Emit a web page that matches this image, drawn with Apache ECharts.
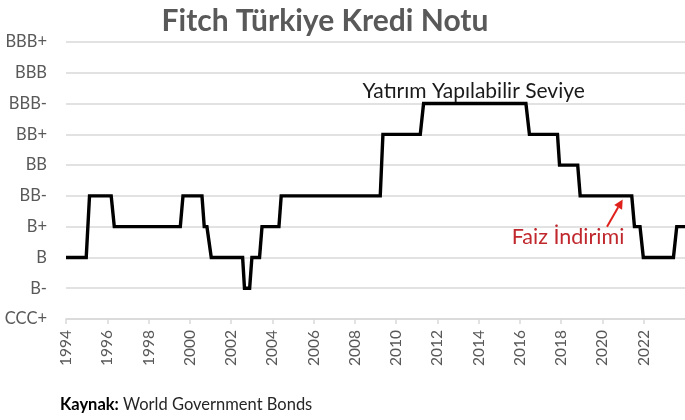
<!DOCTYPE html>
<html><head><meta charset="utf-8">
<script src="https://cdn.jsdelivr.net/npm/echarts@6/dist/echarts.min.js"></script>
<style>html,body{margin:0;padding:0;background:#fff}#c{width:685px;height:420px}</style>
</head><body><div id="c"></div>
<script>
// Rating scale (bottom to top)
const ratingLevels = ['CCC+','B-','B','B+','BB-','BB','BB+','BBB-','BBB','BBB+'];
// Year tick labels
const yearTicks = [1994,1996,1998,2000,2002,2004,2006,2008,2010,2012,2014,2016,2018,2020,2022];
// Observation dates (decimal years) and Fitch rating at each date
const dates = [1994.00,1994.98,1995.14,1996.19,1996.34,1999.54,1999.67,2000.59,2000.70,2000.83,2001.04,
  2002.56,2002.65,2002.90,2003.01,2003.38,2003.50,2004.32,2004.43,2009.23,2009.36,2011.17,2011.33,
  2016.29,2016.46,2017.82,2017.92,2018.80,2018.92,2021.42,2021.55,2021.82,2021.98,2023.44,2023.60,2024.00];
const ratings = ['B','B','BB-','BB-','B+','B+','BB-','BB-','B+','B+','B',
  'B','B-','B-','B','B','B+','B+','BB-','BB-','BB+','BB+','BBB-',
  'BBB-','BB+','BB+','BB','BB','BB-','BB-','B+','B+','B','B','B+','B+'];
const titleText = 'Fitch Türkiye Kredi Notu';
const noteInvest = 'Yatırım Yapılabilir Seviye';
const noteRate = 'Faiz İndirimi';
const sourceLabel = 'Kaynak:';
const sourceText = 'World Government Bonds';

const FONT = 'Lato, "Open Sans", sans-serif';
const chart = echarts.init(document.getElementById('c'), null, {renderer:'canvas'});
const seriesData = dates.map((d,i)=>[d, ratingLevels.indexOf(ratings[i])]);

chart.setOption({
  animation:false,
  backgroundColor:'#fff',
  textStyle:{fontFamily:FONT},
  grid:{left:66, right:0, top:42, bottom:101, containLabel:false},
  xAxis:{type:'value', min:1994, max:2024, interval:2,
    axisLine:{show:true, lineStyle:{color:'#d9d9d9', width:1.5}},
    axisTick:{show:true, length:5, lineStyle:{color:'#d9d9d9', width:1.5}},
    splitLine:{show:false},
    axisLabel:{rotate:90, margin:11, color:'#595959', fontSize:15.5, fontFamily:FONT,
      showMaxLabel:false,
      formatter:v=> yearTicks.indexOf(v)>=0 ? String(v) : ''}
  },
  yAxis:{type:'category', data:ratingLevels, boundaryGap:false,
    axisLine:{show:false}, axisTick:{show:false},
    splitLine:{show:true, lineStyle:{color:'#d9d9d9', width:1.5}},
    axisLabel:{color:'#595959', fontSize:16.5, margin:19, fontFamily:FONT}
  },
  series:[{type:'line', data:seriesData, symbol:'none', smooth:false,
    lineStyle:{color:'#000', width:3.4, join:'miter'}, z:5}]
});

function px(year, lvl){
  const a = chart.convertToPixel({gridIndex:0},[year, Math.floor(lvl)]);
  const b = chart.convertToPixel({gridIndex:0},[year, Math.floor(lvl)+1]);
  const f = lvl-Math.floor(lvl);
  return [a[0], a[1]+(b[1]-a[1])*f];
}
const pInv = px(2013.76, 7.39);
const pRate = px(2018.33, 2.65);
const tail = px(2020.22, 3.0);
const tip = px(2020.98, 3.88);
const dx = tip[0]-tail[0], dy = tip[1]-tail[1], L = Math.hypot(dx,dy), ux=dx/L, uy=dy/L;
const hl=9, hw=4.5;
const base=[tip[0]-ux*hl, tip[1]-uy*hl];
chart.setOption({graphic:[
  {type:'text', x:325, y:21, style:{text:titleText, font:'bold 30px '+FONT, fill:'#595959', align:'center', verticalAlign:'middle'}},
  {type:'text', x:pInv[0], y:pInv[1], style:{text:noteInvest, font:'21px '+FONT, fill:'#1a1a1a', align:'center', verticalAlign:'middle'}, z:10},
  {type:'text', x:pRate[0], y:pRate[1], style:{text:noteRate, font:'21.5px '+FONT, fill:'#c0282d', align:'center', verticalAlign:'middle'}, z:10},
  {type:'line', shape:{x1:tail[0], y1:tail[1], x2:base[0], y2:base[1]}, style:{stroke:'#e0201b', lineWidth:2}, z:10},
  {type:'polygon', shape:{points:[[tip[0],tip[1]],[base[0]-uy*hw, base[1]+ux*hw],[base[0]+uy*hw, base[1]-ux*hw]]}, style:{fill:'#e0201b'}, z:10},
  {type:'text', x:60, y:405, style:{text:'{b|'+sourceLabel+'} '+sourceText, font:'16.5px '+FONT, fill:'#262626', verticalAlign:'middle',
    rich:{b:{fontWeight:'bold', fontSize:16.5, fill:'#000', fontFamily:FONT}}}}
]});
</script></body></html>
